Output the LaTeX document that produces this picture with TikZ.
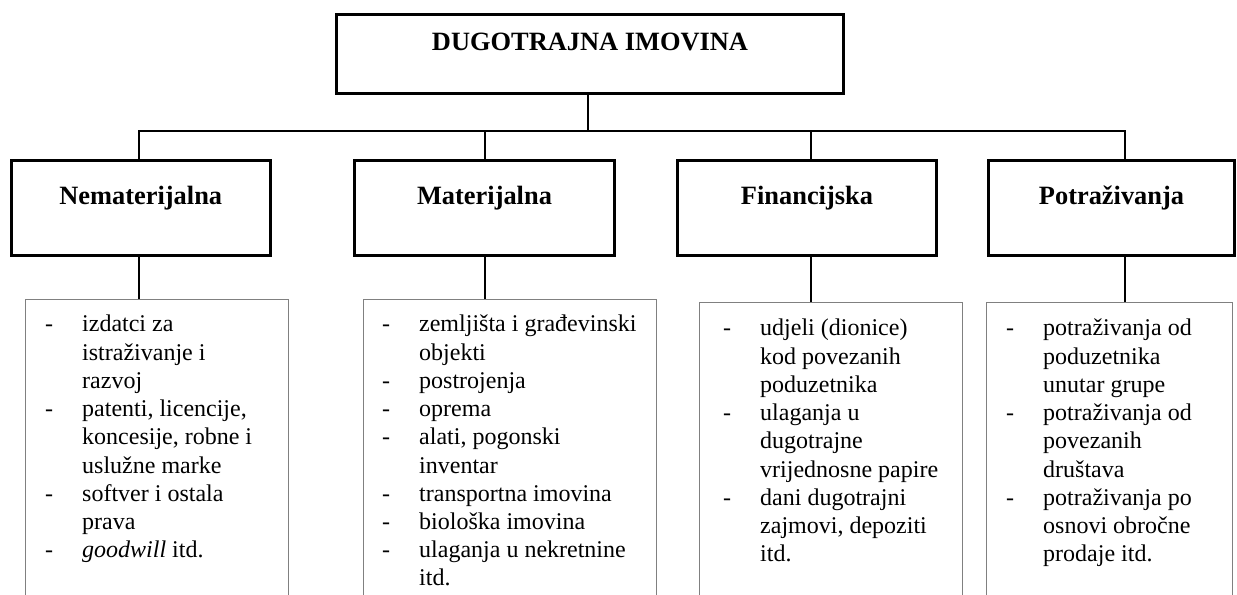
\documentclass[tikz,border=0pt]{standalone}
\usepackage{fontspec}
\setmainfont{Liberation Serif}
\newcommand\dsh{\makebox[37bp][l]{-}}
\begin{document}
\begin{tikzpicture}[x=1bp,y=-1bp,
  box/.style={draw, line width=3.3bp, rectangle, inner sep=0pt, anchor=north west},
  conn/.style={line width=2bp},
  lowbox/.style={draw=black!50, line width=1.4bp, rectangle, inner sep=0pt, anchor=north west, minimum height=400bp},
  hdr/.style={font=\bfseries\fontsize{26.4bp}{30bp}\selectfont, anchor=base, inner sep=0pt},
  lst/.style={font=\fontsize{24bp}{28.2bp}\selectfont, anchor=base west, inner sep=0pt},
]
\useasboundingbox (0,0) rectangle (1237,595);
\clip (0,0) rectangle (1237,595);
% top box
\node[box, minimum width=506.7bp, minimum height=78.7bp] (title) at (335,13) {};
\node[hdr] (titlet) at (590,51) {DUGOTRAJNA IMOVINA};
% category boxes
\node[box, minimum width=259.2bp, minimum height=94.7bp] (c1) at (9.5,159) {};
\node[box, minimum width=259.7bp, minimum height=94.7bp] (c2) at (353,159) {};
\node[box, minimum width=258.7bp, minimum height=94.7bp] (c3) at (676,159) {};
\node[box, minimum width=245.7bp, minimum height=94.7bp] (c4) at (987,159) {};
\node[hdr] (c1t) at (140.75,205) {Nematerijalna};
\node[hdr] (c2t) at (484.5,205) {Materijalna};
\node[hdr] (c3t) at (807,205) {Financijska};
\node[hdr] (c4t) at (1111.5,205) {Potraživanja};
% lower boxes
\node[lowbox, minimum width=262.6bp] (l1) at (25,299) {};
\node[lowbox, minimum width=292.6bp] (l2) at (363,299) {};
\node[lowbox, minimum width=262.6bp] (l3) at (699,302) {};
\node[lowbox, minimum width=245.6bp] (l4) at (986,302) {};
% connectors
\path (title.south) ++(-2,0) coordinate (k0);
\path (k0) ++(0,36) coordinate (bus);
\path (c1.north) ++(-1.75,0) coordinate (k1);
\path (c2.north) ++(0,0) coordinate (k2);
\path (c3.north) ++(4,0) coordinate (k3);
\path (c4.north) ++(13.5,0) coordinate (k4);
\draw[conn] (k0) -- (bus);
\draw[conn] (k1) |- (bus) -| (k4);
\draw[conn] (k2) -- (k2 |- bus);
\draw[conn] (k3) -- (k3 |- bus);
\draw[conn] (c1.south -| k1) -- (l1.north -| k1);
\draw[conn] (c2.south -| k2) -- (l2.north -| k2);
\draw[conn] (c3.south -| k3) -- (l3.north -| k3);
\draw[conn] (c4.south -| k4) -- (l4.north -| k4);
% lists
\node[lst] (t1) at (45,332) {\begin{tabular}[t]{@{}l@{}l@{}}
\dsh & izdatci za\\
 & istraživanje i\\
 & razvoj\\
\dsh & patenti, licencije,\\
 & koncesije, robne i\\
 & uslužne marke\\
\dsh & softver i ostala\\
 & prava\\
\dsh & \textit{goodwill} itd.
\end{tabular}};
\node[lst] (t2) at (382,332) {\begin{tabular}[t]{@{}l@{}l@{}}
\dsh & zemljišta i građevinski\\
 & objekti\\
\dsh & postrojenja\\
\dsh & oprema\\
\dsh & alati, pogonski\\
 & inventar\\
\dsh & transportna imovina\\
\dsh & biološka imovina\\
\dsh & ulaganja u nekretnine\\
 & itd.
\end{tabular}};
\node[lst] (t3) at (723,336) {\begin{tabular}[t]{@{}l@{}l@{}}
\dsh & udjeli (dionice)\\
 & kod povezanih\\
 & poduzetnika\\
\dsh & ulaganja u\\
 & dugotrajne\\
 & vrijednosne papire\\
\dsh & dani dugotrajni\\
 & zajmovi, depoziti\\
 & itd.
\end{tabular}};
\node[lst] (t4) at (1006,336) {\begin{tabular}[t]{@{}l@{}l@{}}
\dsh & potraživanja od\\
 & poduzetnika\\
 & unutar grupe\\
\dsh & potraživanja od\\
 & povezanih\\
 & društava\\
\dsh & potraživanja po\\
 & osnovi obročne\\
 & prodaje itd.
\end{tabular}};
\end{tikzpicture}
\end{document}
